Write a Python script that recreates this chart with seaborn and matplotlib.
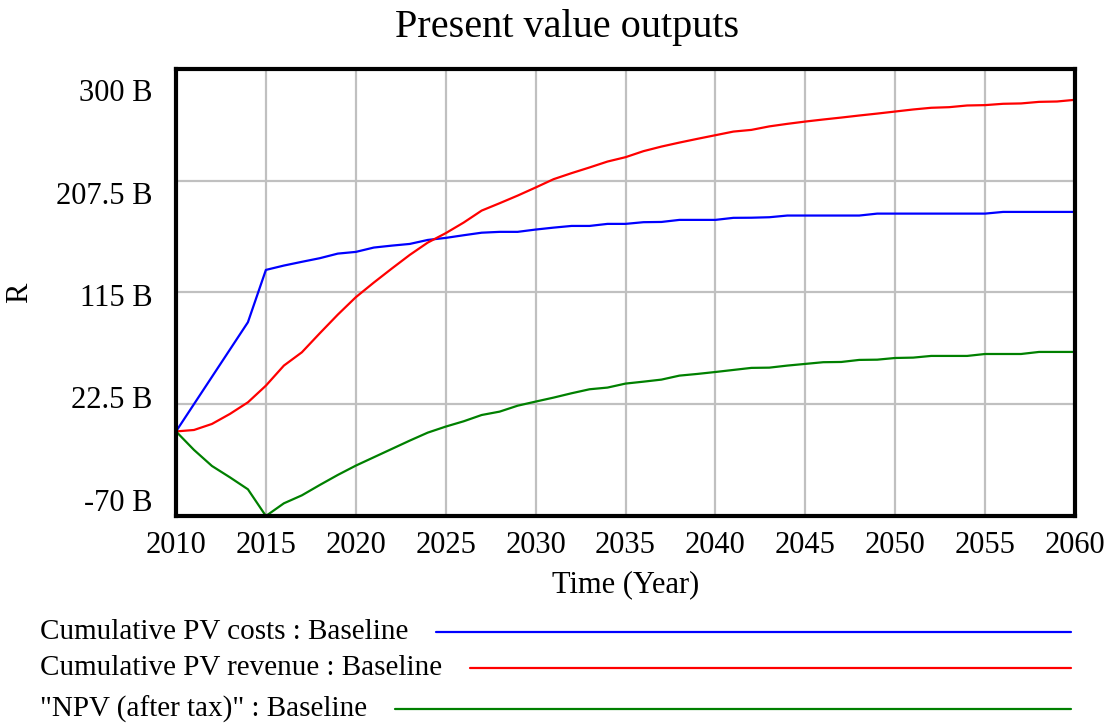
import matplotlib
matplotlib.use("Agg")
import matplotlib.pyplot as plt
import matplotlib.transforms as mtransforms
from matplotlib.lines import Line2D
from matplotlib.ticker import FuncFormatter
import seaborn as sns
import pandas as pd

# values in billions (R)
years = list(range(2010, 2061))
pv_costs = [0, 22.6, 45.2, 67.8, 90.4, 133.7, 137.3, 140.4, 143.4, 147.2,
            148.6, 152.2, 153.8, 155.2, 158.5, 160.2, 162.4, 164.5, 165.2, 165.2,
            167.1, 168.7, 170.1, 170.1, 171.8, 171.8, 173.2, 173.4, 175.1, 175.1,
            175.1, 176.8, 176.9, 177.3, 178.7, 178.7, 178.7, 178.7, 178.7, 180.3,
            180.3, 180.3, 180.3, 180.3, 180.3, 180.3, 181.7, 181.7, 181.7, 181.7,
            181.7]
pv_revenue = [0, 1.2, 6.2, 14.5, 24.1, 37.9, 54.5, 65.5, 81.3, 96.7,
              111.1, 123.2, 134.8, 146.1, 156.3, 164.1, 172.9, 182.8, 188.9, 195.2,
              201.9, 208.8, 213.8, 218.5, 223.4, 227.0, 232.0, 235.8, 239.1, 242.2,
              245.2, 248.2, 249.6, 252.5, 254.6, 256.5, 258.2, 259.8, 261.5, 263.1,
              264.8, 266.5, 267.9, 268.4, 269.8, 270.1, 271.2, 271.5, 272.8, 273.1,
              274.5]
npv_after_tax = [0, -15.3, -28.6, -38.0, -47.9, -70.0, -59.5, -52.9, -44.3, -36.0,
                 -28.3, -21.4, -14.5, -7.6, -1.0, 4.0, 8.4, 13.6, 16.4, 21.3,
                 24.7, 28.0, 31.6, 34.9, 36.3, 39.6, 41.2, 42.9, 46.2, 47.6,
                 49.2, 50.9, 52.6, 52.8, 54.5, 55.9, 57.3, 57.5, 59.2, 59.4,
                 60.8, 61.1, 62.5, 62.5, 62.5, 64.1, 64.1, 64.1, 65.8, 65.8,
                 65.8]

series_names = ["Cumulative PV costs : Baseline",
                "Cumulative PV revenue : Baseline",
                "\"NPV (after tax)\" : Baseline"]
series_colors = ["#0000ff", "#ff0000", "#008000"]
y_ticks = [-70, 22.5, 115, 207.5, 300]
x_ticks = list(range(2010, 2061, 5))

df = pd.DataFrame({
    "Time": years * 3,
    "value": pv_costs + pv_revenue + npv_after_tax,
    "series": sum([[n] * len(years) for n in series_names], []),
})

sns.set_theme(style="white")
plt.rcParams["font.family"] = ["Liberation Serif", "DejaVu Serif"]
plt.rcParams["text.color"] = "black"
plt.rcParams["axes.labelcolor"] = "black"

fig = plt.figure(figsize=(11.09, 7.24), dpi=100)
ax = fig.add_axes([176 / 1109, 1 - 516 / 724, (1075 - 176) / 1109, (516 - 69) / 724])

sns.lineplot(data=df, x="Time", y="value", hue="series", hue_order=series_names,
             palette=series_colors, linewidth=1.6, ax=ax, legend=False)
for ln in ax.lines:
    ln.set_clip_on(False)

ax.set_xlim(2010, 2060)
ax.set_ylim(-70, 300)
ax.set_xticks(x_ticks)
ax.set_yticks(y_ticks)
ax.yaxis.set_major_formatter(FuncFormatter(lambda v, p: f"{v:g} B"))
ax.grid(True, color="#c0c0c0", linewidth=1.6)
ax.tick_params(axis="both", length=0, labelsize=22, colors="black")
ax.tick_params(axis="x", pad=11)
ax.tick_params(axis="y", pad=17)
for sp in ax.spines.values():
    sp.set_color("black")
    sp.set_linewidth(3)
    sp.set_visible(True)

ax.set_xlabel("Time (Year)", fontsize=22, labelpad=7)
ax.set_ylabel("R", fontsize=22, labelpad=16)

# Vensim squeezes the y labels inward a bit
n = len(y_ticks)
for i, lab in enumerate(ax.get_yticklabels()):
    shift = (16 - 37 * i / (n - 1)) / 100
    lab.set_transform(lab.get_transform() + mtransforms.ScaledTranslation(0, shift, fig.dpi_scale_trans))

fig.text(567 / 1109, 1 - 27 / 724, "Present value outputs", fontsize=29,
         ha="center", va="center")

# legend rows below the plot
fig.canvas.draw()
renderer = fig.canvas.get_renderer()
row_y = [632, 668, 709]
for name, color, yy in zip(series_names, series_colors, row_y):
    t = fig.text(40 / 1109, 1 - yy / 724, name, fontsize=21, ha="left", va="center")
    bb = t.get_window_extent(renderer)
    x0 = (bb.x1 + 28) / fig.bbox.width
    fig.add_artist(Line2D([x0, 1071 / 1109], [1 - yy / 724] * 2,
                          color=color, linewidth=1.6, transform=fig.transFigure))

fig.savefig("out.png", dpi=100)
